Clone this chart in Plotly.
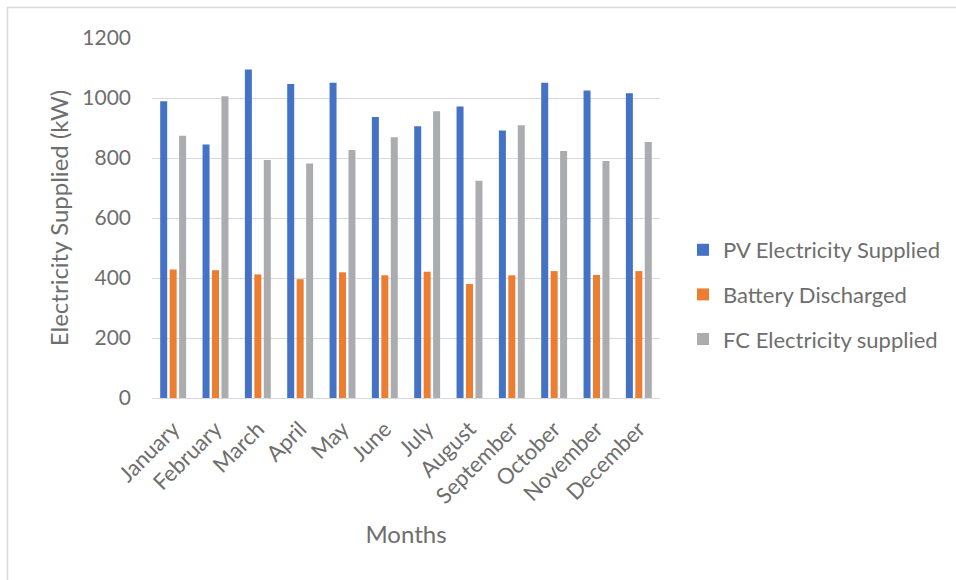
import plotly.graph_objects as go

months = ["January", "February", "March", "April", "May", "June", "July",
          "August", "September", "October", "November", "December"]
pv_supplied = [989, 845, 1095, 1047, 1051, 937, 906, 972, 892, 1051, 1025, 1016]
battery_discharged = [428, 426, 412, 396, 419, 409, 421, 380, 409, 423, 410, 423]
fc_supplied = [874, 1006, 793, 782, 827, 869, 956, 724, 909, 823, 790, 853]

series_names = ["PV Electricity Supplied", "Battery Discharged", "FC Electricity supplied"]
series_colors = ["#4472C4", "#ED7D31", "#ABACB0"]
y_ticks = [0, 200, 400, 600, 800, 1000, 1200]

FONT = "Lato"
TEXT = "#6E6E6E"
GRID = "#D9D9D9"

fig = go.Figure()
for name, vals, col in zip(series_names, [pv_supplied, battery_discharged, fc_supplied], series_colors):
    fig.add_trace(go.Bar(
        x=months, y=vals, name=name, legendgroup=name,
        marker=dict(color=col, line=dict(width=0)),
    ))

# plot-area geometry in pixels
W, H = 956, 580
L, R, T, B = 152, 296, 38, 182
pw, ph = W - L - R, H - T - B

def px_x(p):
    return (p - L) / pw

def px_y(p):
    return (H - B - p) / ph

fig.update_layout(
    width=W, height=H,
    margin=dict(l=L, r=R, t=T, b=B, autoexpand=False),
    paper_bgcolor="white", plot_bgcolor="white",
    font=dict(family=FONT, color=TEXT, size=21),
    barmode="group", bargap=0.33, bargroupgap=0.26,
    showlegend=True,
    legend=dict(
        x=px_x(683), y=px_y(229), xanchor="left", yanchor="top",
        font=dict(family=FONT, size=22, color=TEXT),
        tracegroupgap=13, itemwidth=30, bgcolor="rgba(0,0,0,0)",
    ),
    xaxis=dict(
        tickangle=-45, showgrid=False, showline=False, ticks="",
        ticklabelstandoff=13,
        tickfont=dict(family=FONT, size=22, color=TEXT),
        title=dict(text="Months", font=dict(family=FONT, size=24, color=TEXT), standoff=18),
    ),
    yaxis=dict(
        range=[0, 1200], tickvals=y_ticks, showgrid=True, gridcolor=GRID, gridwidth=1.3,
        zeroline=True, zerolinecolor=GRID, zerolinewidth=1.3, showline=False, ticks="",
        ticklabelstandoff=20,
        tickfont=dict(family=FONT, size=21, color=TEXT),
        title=dict(text="Electricity Supplied (kW)", font=dict(family=FONT, size=24, color=TEXT), standoff=6),
    ),
    shapes=[dict(
        type="rect", xref="paper", yref="paper",
        x0=px_x(7.5), x1=px_x(990), y0=px_y(7.5), y1=px_y(620),
        line=dict(color=GRID, width=1.5), fillcolor="rgba(0,0,0,0)", layer="below",
    )],
)

fig.write_html("out.html")
